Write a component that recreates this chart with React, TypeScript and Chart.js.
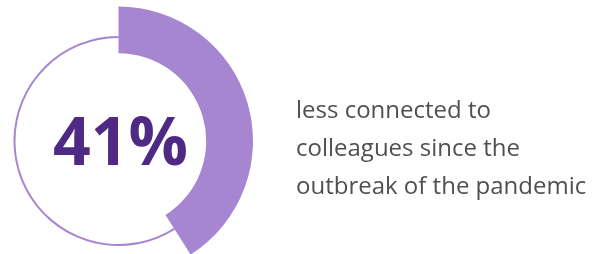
import React, { useEffect, useRef } from "react";
import { Chart, registerables } from "chart.js";

Chart.register(...registerables);

const categories = ["Less connected", "Not less connected"];
const shareValues = [41, 59];
const centerLabel = "41%";
const captionLines = ["less connected to", "colleagues since the", "outbreak of the pandemic"];

const PURPLE = "#A686D0";
const DARK_PURPLE = "#4E2A84";
const CLEAR = "rgba(0,0,0,0)";

const padding = { left: 0, right: 597 - 237, top: 28, bottom: 0 };

export default function App() {
  const ringRef = useRef<HTMLCanvasElement | null>(null);
  const arcRef = useRef<HTMLCanvasElement | null>(null);

  useEffect(() => {
    if (!ringRef.current || !arcRef.current) return;
    const common = {
      animation: false as const,
      responsive: false,
      maintainAspectRatio: false,
      layout: { padding },
      events: [] as any[],
      plugins: { legend: { display: false }, tooltip: { enabled: false } },
    };
    const ring = new Chart(ringRef.current, {
      type: "doughnut",
      data: {
        labels: categories,
        datasets: [
          {
            data: shareValues,
            backgroundColor: [PURPLE, PURPLE],
            borderWidth: 0,
          },
        ],
      },
      options: { ...common, radius: 105, cutout: "98.1%" },
    });
    const arc = new Chart(arcRef.current, {
      type: "doughnut",
      data: {
        labels: categories,
        datasets: [
          {
            data: shareValues,
            backgroundColor: [PURPLE, CLEAR],
            borderWidth: 0,
          },
        ],
      },
      options: { ...common, radius: 134.5, cutout: "65.2%" },
    });
    return () => {
      ring.destroy();
      arc.destroy();
    };
  }, []);

  const canvasStyle: React.CSSProperties = { position: "absolute", left: 0, top: 0, width: 597, height: 254 };

  return (
    <div style={{ position: "fixed", left: 0, top: 0, width: 597, height: 254, overflow: "hidden", background: "#fff" }}>
      <canvas ref={ringRef} width={597} height={254} style={canvasStyle} />
      <canvas ref={arcRef} width={597} height={254} style={canvasStyle} />
      <div
        style={{
          position: "absolute",
          left: 0,
          width: 241,
          top: 107,
          textAlign: "center",
          fontFamily: "'Open Sans', sans-serif",
          fontWeight: 700,
          fontSize: 66,
          lineHeight: "65px",
          color: DARK_PURPLE,
          whiteSpace: "nowrap",
        }}
      >
        {centerLabel}
      </div>
      <div
        style={{
          position: "absolute",
          left: 296,
          top: 90,
          fontFamily: "'Open Sans', sans-serif",
          fontSize: 24,
          lineHeight: "38px",
          color: "#505050",
          whiteSpace: "nowrap",
        }}
      >
        {captionLines.map((l, i) => (
          <div key={i}>{l}</div>
        ))}
      </div>
    </div>
  );
}
